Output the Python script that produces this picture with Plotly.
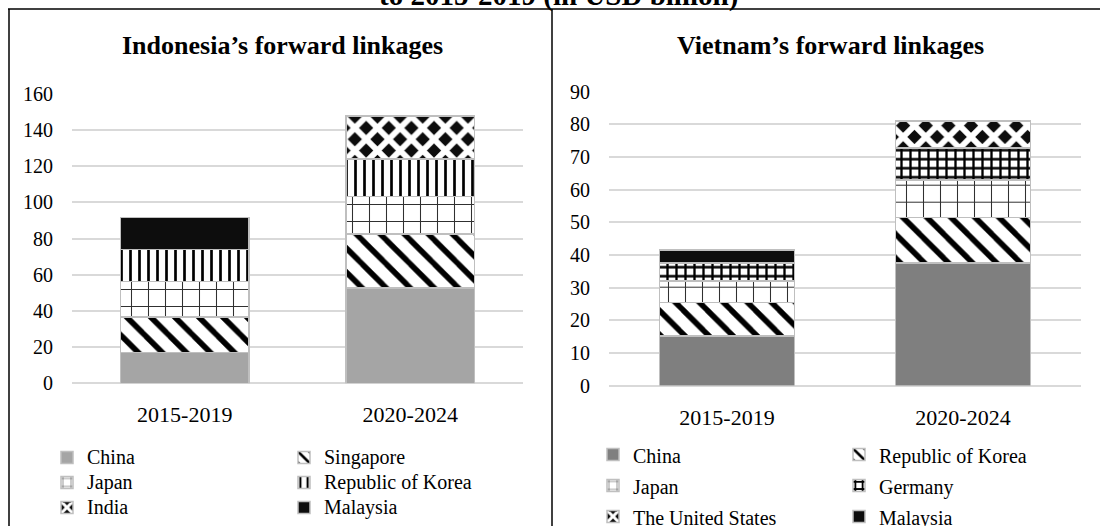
import plotly.graph_objects as go

# Periods on the x axis
periods = ["2015-2019", "2020-2024"]

# Indonesia's forward linkages (USD billion), stacked bottom to top
idn_china = [17.0, 52.6]
idn_singapore = [19.6, 30.1]
idn_japan = [19.7, 20.7]
idn_korea = [17.6, 20.7]
idn_india = [None, 23.6]
idn_malaysia = [17.9, None]

# Vietnam's forward linkages (USD billion), stacked bottom to top
vnm_china = [15.2, 37.5]
vnm_korea = [10.2, 14.0]
vnm_japan = [6.6, 11.5]
vnm_germany = [5.5, 9.7]
vnm_us = [None, 8.4]
vnm_malaysia = [4.0, None]

W, H = 1100, 526
SERIF = "Liberation Serif, Times New Roman, serif"
OUTLINE = dict(color="#bfbfbf", width=1.5)
GRID = "#d9d9d9"


def px_x(p):
    return p / W


def px_y(p):
    return 1 - p / H


def pat(shape, size, solidity, fg="#000000", bg="#ffffff"):
    return dict(shape=shape, size=size, solidity=solidity,
                fgcolor=fg, bgcolor=bg, fillmode="replace")


STRIPES = pat("\\", 17, 0.33)
DOTGRID = pat("+", 17, 0.12, fg="#303030")
VLINES = pat("|", 9, 0.3)
DIAMONDS = pat("x", 16, 0.6, fg="#ffffff", bg="#0d0d0d")
CROSS = pat("+", 9, 0.45)


def label(text, px):
    return f'<span style="font-size:{px}px">{text}</span>'


fig = go.Figure()


def add(values, name, axis, legend, color="#ffffff", pattern=None):
    marker = dict(color=color, line=OUTLINE)
    if pattern is not None:
        marker["pattern"] = pattern
    fig.add_trace(go.Bar(
        x=periods, y=values, name=label(name, 20),
        xaxis="x" if axis == 1 else "x2", yaxis="y" if axis == 1 else "y2",
        marker=marker, legend=legend, legendgroup=f"{axis}-{name}",
    ))


# Indonesia panel
add(idn_china, "China", 1, "legend", color="#a5a5a5")
add(idn_singapore, "Singapore", 1, "legend2", pattern=STRIPES)
add(idn_japan, "Japan", 1, "legend", pattern=DOTGRID)
add(idn_korea, "Republic of Korea", 1, "legend2", pattern=VLINES)
add(idn_india, "India", 1, "legend", pattern=DIAMONDS)
add(idn_malaysia, "Malaysia", 1, "legend2", color="#0d0d0d")

# Vietnam panel
add(vnm_china, "China", 2, "legend3", color="#7f7f7f")
add(vnm_korea, "Republic of Korea", 2, "legend4", pattern=STRIPES)
add(vnm_japan, "Japan", 2, "legend3", pattern=DOTGRID)
add(vnm_germany, "Germany", 2, "legend4", pattern=CROSS)
add(vnm_us, "The United States", 2, "legend3", pattern=DIAMONDS)
add(vnm_malaysia, "Malaysia", 2, "legend4", color="#0d0d0d")

tick_font = dict(family=SERIF, size=20, color="#000000")
xtick_font = dict(family=SERIF, size=22, color="#000000")

axis_x = dict(showgrid=False, zeroline=False, showline=False, ticks="",
              tickfont=xtick_font, ticklabelstandoff=16, fixedrange=True)
axis_y = dict(showgrid=True, gridcolor=GRID, gridwidth=1.5, zeroline=True,
              zerolinecolor=GRID, zerolinewidth=1.5, showline=False, ticks="",
              tickfont=tick_font, fixedrange=True)


def legend_box(x_px, top_px, base_size):
    return dict(x=px_x(x_px), y=px_y(top_px), xanchor="left", yanchor="top",
                orientation="v", traceorder="normal", bgcolor="rgba(0,0,0,0)",
                font=dict(family=SERIF, size=base_size, color="#000000"),
                itemclick=False, itemdoubleclick=False, tracegroupgap=0)


fig.update_layout(
    width=W, height=H, autosize=False,
    margin=dict(l=0, r=0, t=0, b=0, autoexpand=False),
    paper_bgcolor="#ffffff", plot_bgcolor="#ffffff",
    barmode="stack", bargap=0.43,
    showlegend=True,
    xaxis=dict(axis_x, domain=[px_x(72), px_x(523)], anchor="y"),
    yaxis=dict(axis_y, domain=[px_y(383.3), px_y(94)], anchor="x",
               range=[0, 160], dtick=20, ticklabelstandoff=18),
    xaxis2=dict(axis_x, domain=[px_x(609), px_x(1081)], anchor="y2"),
    yaxis2=dict(axis_y, domain=[px_y(385.7), px_y(91.7)], anchor="x2",
                range=[0, 90], dtick=10, ticklabelstandoff=18),
    legend=legend_box(47, 440, 16.9),
    legend2=legend_box(284, 440, 16.9),
    legend3=legend_box(593, 434, 21.5),
    legend4=legend_box(839, 434, 21.5),
)

# Table-style frame around the two panels
frame = dict(type="line", xref="paper", yref="paper",
             line=dict(color="#000000", width=1.5))
fig.add_shape(frame, x0=px_x(8), x1=1, y0=px_y(9), y1=px_y(9))
fig.add_shape(frame, x0=px_x(9), x1=px_x(9), y0=0, y1=px_y(9))
fig.add_shape(frame, x0=px_x(552), x1=px_x(552), y0=0, y1=px_y(9))

# Caption line above the frame and panel titles
fig.add_annotation(text="<b>to 2015-2019 (in USD billion)</b>",
                   x=px_x(558), y=px_y(-4.8), xref="paper", yref="paper",
                   xanchor="center", yanchor="middle", showarrow=False,
                   font=dict(family=SERIF, size=29, color="#000000"))
fig.add_annotation(text="<b>Indonesia’s forward linkages</b>",
                   x=px_x(282), y=px_y(46), xref="paper", yref="paper",
                   xanchor="center", yanchor="middle", showarrow=False,
                   font=dict(family=SERIF, size=26, color="#000000"))
fig.add_annotation(text="<b>Vietnam’s forward linkages</b>",
                   x=px_x(830), y=px_y(46), xref="paper", yref="paper",
                   xanchor="center", yanchor="middle", showarrow=False,
                   font=dict(family=SERIF, size=26, color="#000000"))

fig.write_html("out.html")
